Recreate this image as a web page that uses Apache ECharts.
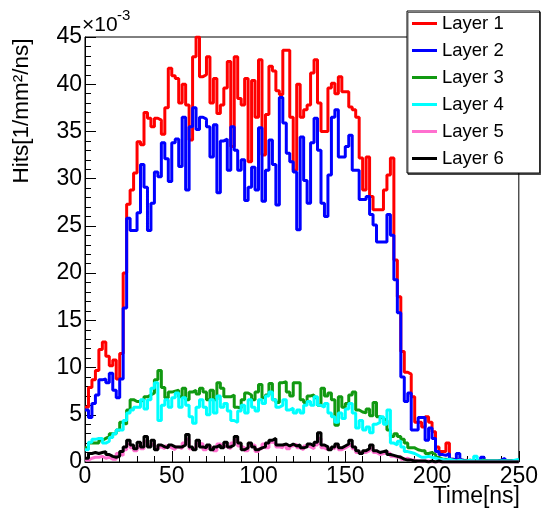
<!DOCTYPE html>
<html>
<head>
<meta charset="utf-8">
<script src="https://cdn.jsdelivr.net/npm/echarts@6/dist/echarts.min.js"></script>
<style>
  html, body { margin: 0; padding: 0; background: #fff; }
  #chart { width: 541px; height: 514px; }
</style>
</head>
<body>
<div id="chart"></div>
<script>
// Hit rate per layer in 2 ns time bins (units of 1e-3 hits / mm^2 / ns)
const binWidth = 2;
const binEdges = Array.from({ length: 125 }, (_, i) => i * binWidth); // left edge of each bin, 0..248 ns
const timeMax = 250;

const layerNames = ['Layer 1', 'Layer 2', 'Layer 3', 'Layer 4', 'Layer 5', 'Layer 6'];
const layerColors = ['#ff0000', '#0000ff', '#119911', '#00ffff', '#ff6fcf', '#000000'];

const layer1 = [
  5.8, 7.9, 8.7, 9.7, 11.9, 12.7, 11.2, 10.2, 10.8, 8.8,
  11.5, 20.0, 27.3, 28.8, 30.6, 33.9, 33.6, 37.0, 36.4, 35.5,
  36.4, 36.2, 34.7, 37.5, 41.7, 40.9, 40.6, 38.0, 40.0, 37.8,
  34.1, 42.9, 45.0, 40.8, 41.0, 42.9, 38.0, 40.6, 36.9, 37.8,
  39.6, 42.4, 33.4, 42.9, 38.5, 37.8, 40.6, 31.8, 40.4, 36.5,
  42.6, 32.5, 36.8, 41.9, 41.4, 39.3, 38.9, 43.6, 43.6, 36.5,
  30.9, 40.0, 36.5, 37.3, 37.8, 41.2, 42.6, 38.0, 35.0, 35.0,
  39.6, 40.1, 39.0, 40.8, 39.2, 39.2, 37.6, 37.3, 36.5, 32.2,
  28.8, 32.3, 28.1, 26.7, 26.7, 26.7, 28.8, 30.4, 32.2, 21.4,
  17.5, 11.7, 9.5, 9.3, 6.9, 4.2, 4.2, 3.7, 4.8, 4.2,
  3.2, 1.6, 1.1, 1.1, 2.0, 0.3, 0.2, 0.3, 0.1, 0.2,
  0.1, 0.2, 0.1, 0.1, 0.2, 0.1, 0.1, 0.1, 0.1, 0.2,
  0.1, 0.1, 0.1, 0.1, 0.1
];

const layer2 = [
  5.5, 4.7, 6.2, 7.1, 8.7, 8.8, 8.4, 9.4, 7.6, 6.8,
  8.8, 16.3, 25.8, 24.5, 24.5, 26.4, 31.5, 29.1, 24.5, 27.4,
  30.7, 30.2, 33.8, 32.1, 29.7, 33.8, 34.2, 31.3, 36.5, 28.8,
  35.5, 37.5, 35.2, 36.5, 36.3, 35.5, 32.3, 35.7, 28.5, 34.0,
  34.2, 30.9, 35.5, 33.0, 30.9, 32.0, 27.7, 29.1, 31.2, 28.8,
  35.4, 27.6, 30.9, 34.1, 31.5, 27.2, 38.6, 35.9, 32.7, 31.8,
  30.7, 24.6, 34.4, 29.8, 27.4, 33.8, 36.4, 33.0, 27.4, 26.0,
  30.4, 36.5, 37.3, 32.3, 32.3, 33.4, 34.6, 30.9, 30.9, 27.8,
  27.8, 28.1, 26.2, 25.1, 23.3, 23.3, 23.3, 26.2, 24.0, 19.3,
  15.8, 9.0, 6.4, 7.3, 3.4, 3.4, 4.7, 4.7, 2.3, 3.6,
  2.5, 1.1, 0.8, 0.7, 0.9, 0.3, 0.2, 0.9, 0.2, 0.1,
  0.1, 0.1, 0.2, 0.1, 0.5, 0.1, 0.1, 0.1, 0.1, 0.2,
  0.4, 0.1, 0.1, 0.1, 0.1
];

const layer3 = [
  1.5, 2.0, 2.0, 2.0, 2.3, 2.5, 2.7, 3.0, 3.0, 3.4,
  4.2, 4.0, 5.5, 6.6, 6.4, 6.4, 6.6, 6.9, 7.1, 7.3,
  8.7, 9.7, 7.9, 6.8, 7.4, 7.5, 7.6, 6.9, 7.8, 6.6,
  7.4, 7.6, 7.2, 7.8, 7.4, 6.6, 7.6, 6.6, 8.4, 7.8,
  6.9, 6.9, 7.1, 5.8, 5.7, 6.6, 7.3, 7.1, 6.6, 7.4,
  8.2, 6.8, 7.1, 8.3, 6.6, 6.3, 8.4, 8.5, 7.4, 7.0,
  8.4, 8.4, 6.6, 6.3, 7.0, 7.1, 6.8, 6.0, 7.8, 7.0,
  7.3, 6.6, 3.9, 6.9, 5.8, 6.2, 7.1, 7.4, 5.5, 5.3,
  5.2, 5.6, 4.9, 6.3, 4.8, 4.6, 4.4, 3.4, 2.7, 3.0,
  2.7, 2.4, 2.0, 1.5, 1.5, 1.3, 1.2, 1.2, 0.9, 1.0,
  0.8, 0.5, 0.3, 0.3, 0.2, 0.2, 0.1, 0.2, 0.1, 0.1,
  0.2, 0.1, 0.1, 0.1, 0.2, 0.1, 0.1, 0.1, 0.1, 0.1,
  0.1, 0.1, 0.1, 0.1, 0.1
];

const layer4 = [
  1.3, 2.1, 2.4, 2.5, 2.5, 2.0, 2.2, 2.6, 3.0, 3.4,
  3.4, 4.4, 5.2, 5.5, 5.8, 5.8, 6.6, 5.6, 6.6, 7.8,
  8.4, 4.4, 6.0, 6.6, 5.8, 6.8, 7.3, 5.8, 6.8, 6.0,
  4.8, 4.1, 5.8, 6.6, 5.8, 5.0, 6.6, 5.2, 7.0, 5.8,
  6.2, 5.4, 4.4, 4.2, 5.4, 6.0, 5.2, 6.6, 5.8, 5.4,
  6.6, 6.2, 7.0, 7.4, 6.6, 5.8, 6.0, 6.6, 5.5, 5.7,
  5.2, 5.5, 5.2, 6.0, 6.4, 6.0, 6.9, 6.0, 5.8, 6.2,
  5.2, 4.8, 4.2, 5.2, 4.6, 5.6, 6.2, 5.2, 3.6, 4.4,
  3.4, 3.7, 3.1, 4.0, 4.2, 4.8, 4.0, 5.5, 2.0, 1.8,
  2.2, 1.6, 1.1, 1.0, 0.9, 0.7, 0.5, 0.5, 0.6, 0.5,
  0.4, 0.3, 0.3, 0.2, 0.3, 0.2, 0.1, 0.2, 0.1, 0.1,
  0.2, 0.1, 0.6, 0.1, 0.1, 0.1, 0.1, 0.1, 0.1, 0.1,
  0.1, 0.1, 0.1, 0.2, 0.3
];

const layer5 = [
  0.2, 0.4, 0.5, 0.5, 0.6, 0.4, 0.5, 0.3, 0.3, 0.9,
  0.7, 1.3, 1.9, 1.5, 1.2, 1.7, 1.4, 2.2, 1.8, 2.0,
  1.5, 1.6, 1.4, 1.7, 1.5, 1.3, 1.6, 1.4, 2.0, 2.4,
  1.4, 1.5, 2.0, 1.9, 1.3, 1.6, 1.5, 1.2, 1.9, 1.7,
  1.6, 1.4, 2.0, 2.4, 1.7, 1.5, 1.2, 1.7, 1.8, 1.1,
  1.4, 1.9, 1.5, 2.1, 2.0, 1.6, 1.5, 1.8, 1.4, 1.7,
  1.9, 1.5, 1.3, 1.7, 1.6, 1.4, 1.8, 2.5, 1.5, 1.3,
  1.5, 1.4, 1.7, 1.3, 1.5, 1.7, 1.9, 1.4, 1.0, 1.0,
  1.0, 1.2, 1.5, 1.0, 0.8, 0.9, 1.0, 0.9, 0.6, 0.5,
  0.6, 0.3, 0.4, 0.2, 0.2, 0.1, 0.1, 0.1, 0.1, 0.0,
  0.0, 0.0, 0.0, 0.0, 0.0, 0.0, 0.0, 0.0, 0.0, 0.0,
  0.0, 0.0, 0.0, 0.0, 0.0, 0.0, 0.0, 0.0, 0.0, 0.0,
  0.0, 0.0, 0.0, 0.0, 0.0
];

const layer6 = [
  0.4, 0.9, 1.0, 0.9, 1.0, 1.1, 0.8, 0.6, 0.5, 0.6,
  1.1, 1.6, 2.3, 1.8, 1.4, 2.1, 1.6, 2.7, 1.6, 2.3,
  1.3, 1.8, 1.6, 1.5, 1.8, 1.6, 1.6, 1.6, 1.8, 2.9,
  1.6, 1.3, 2.3, 1.6, 1.5, 1.8, 1.3, 1.6, 1.8, 1.5,
  2.1, 1.6, 1.8, 2.7, 2.0, 1.3, 1.5, 2.0, 1.6, 1.3,
  1.5, 1.6, 2.0, 2.3, 2.5, 1.8, 1.8, 1.9, 1.7, 1.9,
  1.7, 1.8, 1.5, 1.6, 1.9, 1.7, 2.1, 3.1, 1.8, 1.6,
  1.3, 1.6, 1.9, 1.5, 1.7, 1.9, 2.3, 1.6, 1.2, 0.9,
  1.2, 1.4, 1.8, 1.2, 1.0, 1.1, 1.2, 0.8, 0.7, 0.6,
  0.5, 0.3, 0.2, 0.2, 0.1, 0.1, 0.1, 0.1, 0.0, 0.1,
  0.0, 0.1, 0.0, 0.0, 0.0, 0.0, 0.0, 0.0, 0.0, 0.0,
  0.0, 0.0, 0.0, 0.0, 0.0, 0.0, 0.0, 0.0, 0.0, 0.0,
  0.0, 0.0, 0.0, 0.0, 0.0
];

const layers = [layer1, layer2, layer3, layer4, layer5, layer6];

// Histogram outline: one point per bin edge, held flat until the next edge
function histPoints(values) {
  const pts = binEdges.map((t, i) => [t, values[i]]);
  pts.push([timeMax, values[values.length - 1]]);
  return pts;
}

const FONT = '"Liberation Sans", Arial, Helvetica, sans-serif';

const chart = echarts.init(document.getElementById('chart'), null, { renderer: 'canvas' });

chart.setOption({
  animation: false,
  backgroundColor: '#ffffff',
  grid: {
    left: 85, top: 37, right: 20, bottom: 52,
    show: true, borderColor: '#000', borderWidth: 1, backgroundColor: 'transparent'
  },
  xAxis: {
    type: 'value', min: 0, max: timeMax, interval: 50,
    axisLine: { onZero: false, lineStyle: { color: '#000', width: 1 } },
    axisTick: { inside: true, length: 11, lineStyle: { color: '#000', width: 1 } },
    minorTick: { show: true, splitNumber: 5, length: 6, lineStyle: { color: '#000', width: 1 } },
    splitLine: { show: false },
    axisLabel: { fontSize: 23, color: '#000', margin: 3, fontFamily: FONT }
  },
  yAxis: {
    type: 'value', min: 0, max: 45, interval: 5,
    axisLine: { onZero: false, lineStyle: { color: '#000', width: 1 } },
    axisTick: { inside: true, length: 11, lineStyle: { color: '#000', width: 1 } },
    minorTick: { show: true, splitNumber: 5, length: 6, lineStyle: { color: '#000', width: 1 } },
    splitLine: { show: false },
    axisLabel: { fontSize: 23, color: '#000', margin: 3, fontFamily: FONT }
  },
  legend: {
    orient: 'vertical',
    left: 407, top: 11,
    icon: 'rect',
    itemWidth: 25, itemHeight: 3, itemGap: 8,
    padding: [3, 36, 5, 5],
    backgroundColor: '#fff', borderColor: '#000', borderWidth: 1,
    shadowColor: 'rgba(0,0,0,0.6)', shadowOffsetX: 1, shadowOffsetY: 1.5,
    textStyle: { fontSize: 18.5, color: '#000', fontFamily: FONT },
    data: layerNames
  },
  series: layers.map((vals, k) => ({
    name: layerNames[k],
    type: 'line',
    step: 'end',
    symbol: 'none',
    color: layerColors[k],
    lineStyle: { width: 3, color: layerColors[k] },
    data: histPoints(vals)
  })),
  graphic: [
    {
      type: 'text', x: 22, y: 111, rotation: Math.PI / 2,
      style: { text: 'Hits[1/mm²/ns]', font: '22.5px ' + FONT, align: 'center', verticalAlign: 'middle', fill: '#000' }
    },
    {
      type: 'text', x: 520, y: 497,
      style: { text: 'Time[ns]', font: '23px ' + FONT, align: 'right', verticalAlign: 'middle', fill: '#000' }
    },
    {
      type: 'text', x: 82, y: 25,
      style: { text: '×10', font: '21px ' + FONT, align: 'left', verticalAlign: 'middle', fill: '#000' }
    },
    {
      type: 'text', x: 117, y: 16,
      style: { text: '-3', font: '15px ' + FONT, align: 'left', verticalAlign: 'middle', fill: '#000' }
    }
  ]
});
</script>
</body>
</html>
